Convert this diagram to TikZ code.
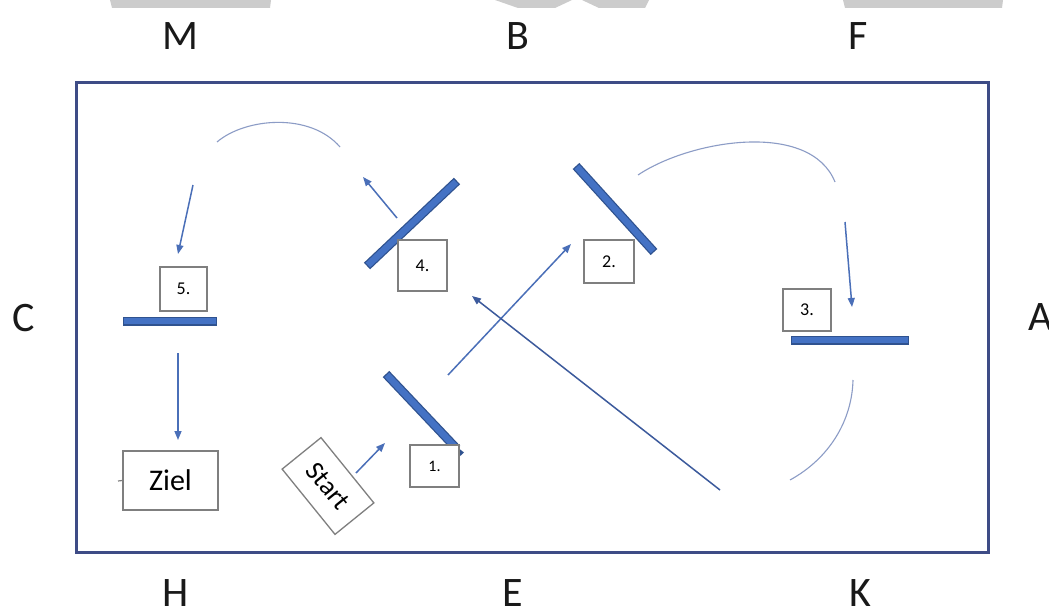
\documentclass[tikz,border=0pt]{standalone}
\usepackage{fontspec}
\setmainfont{Carlito}
\usetikzlibrary{arrows.meta}
\definecolor{mirrorfill}{HTML}{4472C4}
\definecolor{mirroredge}{HTML}{2F528F}
\definecolor{framec}{HTML}{3E4C86}
\definecolor{rayc}{HTML}{4A6FB8}
\definecolor{longray}{HTML}{3C5A9C}
\definecolor{arcc}{HTML}{8C9CC6}
\definecolor{boxc}{HTML}{7F7F7F}
\definecolor{wm}{HTML}{CCCCCC}
\begin{document}
\begin{tikzpicture}[x=1pt,y=-1pt,
  side/.style={font=\fontsize{42}{46}\selectfont, inner sep=0pt, text=black!90},
  numbox/.style={draw=boxc, line width=1.3pt, fill=white, inner sep=0pt, text=black,
    font=\fontsize{18}{20}\selectfont},
  mirror/.style={line width=9pt, draw=mirroredge,
    postaction={draw=mirrorfill, line width=6.5pt, shorten <=1.3pt, shorten >=1.3pt}},
  ray/.style={draw=rayc, line width=1.5pt, -{Triangle[length=9pt,width=7pt]}},
  arcline/.style={draw=arcc, line width=1.1pt}
]
\fill[white] (0,0) rectangle (1049,610);
\useasboundingbox (0,0) rectangle (1049,610);
% watermark remnants
\fill[wm] (110,0) -- (271,0) -- (270,8) -- (112,8) -- cycle;
\fill[wm] (843,0) -- (1003,0) -- (1002,8) -- (845,8) -- cycle;
\fill[wm] (495,0) -- (572,0) -- (555,8) -- (518,8) -- cycle;
\fill[wm] (582,0) -- (649,0) -- (645,8) -- (599,8) -- cycle;
% frame
\draw[framec, line width=3pt] (76,82) rectangle (988,552);
% side labels
\node[side] (M) at (180,36) {M};
\node[side] (B) at (518,36) {B};
\node[side] (F) at (858,36) {F};
\node[side] (C) at (24,318) {C};
\node[side] (A) at (1041,317) {A};
\node[side] (H) at (176,593) {H};
\node[side] (E) at (513,593) {E};
\node[side] (K) at (860,593) {K};
% mirrors
\coordinate (m5a) at (123,321); \coordinate (m5b) at (217,321);
\coordinate (m4a) at (367,266); \coordinate (m4b) at (457,181);
\coordinate (m2a) at (576,166); \coordinate (m2b) at (654,252);
\coordinate (m3a) at (791,340); \coordinate (m3b) at (909,340);
\coordinate (m1a) at (386,374); \coordinate (m1b) at (457,449);
\draw[mirror] (m5a) -- (m5b);
\draw[mirror] (m4a) -- (m4b);
\draw[mirror] (m2a) -- (m2b);
\draw[mirror] (m3a) -- (m3b);
\draw[mirror] (m1a) -- (m1b);
\fill[mirroredge] (457,447) -- (464,452.5) -- (458,458) -- cycle;
% number boxes
\node[numbox, minimum width=47pt, minimum height=44pt] (b5) at (183.5,289) {5.};
\node[numbox, minimum width=49pt, minimum height=51pt] (b4) at (422.5,265.5) {4.};
\node[numbox, minimum width=50pt, minimum height=43pt] (b2) at (609,261.5) {2.};
\node[numbox, minimum width=48pt, minimum height=42pt] (b3) at (807,310) {3.};
\node[numbox, minimum width=49pt, minimum height=42pt, font=\fontsize{16}{18}\selectfont] (b1) at (434.5,466) {1.};
\node[numbox, minimum width=95pt, minimum height=59pt, font=\fontsize{30}{34}\selectfont] (ziel) at (170.5,480.5) {Ziel};
\draw[boxc, line width=1.2pt] (118,481) -- (ziel.west);
\node[numbox, minimum width=84pt, minimum height=50pt, rotate=-51, font=\fontsize{27}{30}\selectfont] (start) at (328,486) {Start};
% ray coordinates
\coordinate (s1) at (356,473); \coordinate (e1) at (385,443);
\coordinate (s2) at (448,375); \coordinate (e2) at (571,244);
\coordinate (a2) at (638,175); \coordinate (a2e) at (835,182);
\coordinate (s3) at (845,222); \coordinate (e3) at (852,307);
\coordinate (a3) at (853,380); \coordinate (a3e) at (790,480);
\coordinate (s4) at (720,490); \coordinate (e4) at (472,296);
\coordinate (s5) at (397,218); \coordinate (e5) at (363,177);
\coordinate (a5) at (217,142); \coordinate (a5e) at (340,147);
\coordinate (s6) at (193,185); \coordinate (e6) at (178,254);
\coordinate (s7) at (178,353); \coordinate (e7) at (178,440);
% rays
\draw[ray] (s1) -- (e1);
\draw[ray] (s2) -- (e2);
\draw[arcline] (a2) .. controls (690,140) and (810,120) .. (a2e);
\draw[ray] (s3) -- (e3);
\draw[arcline] (a3) .. controls (852,420) and (830,458) .. (a3e);
\draw[ray, draw=longray] (s4) -- (e4);
\draw[ray] (s5) -- (e5);
\draw[arcline] (a5) .. controls (245,118) and (310,112) .. (a5e);
\draw[ray] (s6) -- (e6);
\draw[ray] (s7) -- (e7);
\end{tikzpicture}
\end{document}
